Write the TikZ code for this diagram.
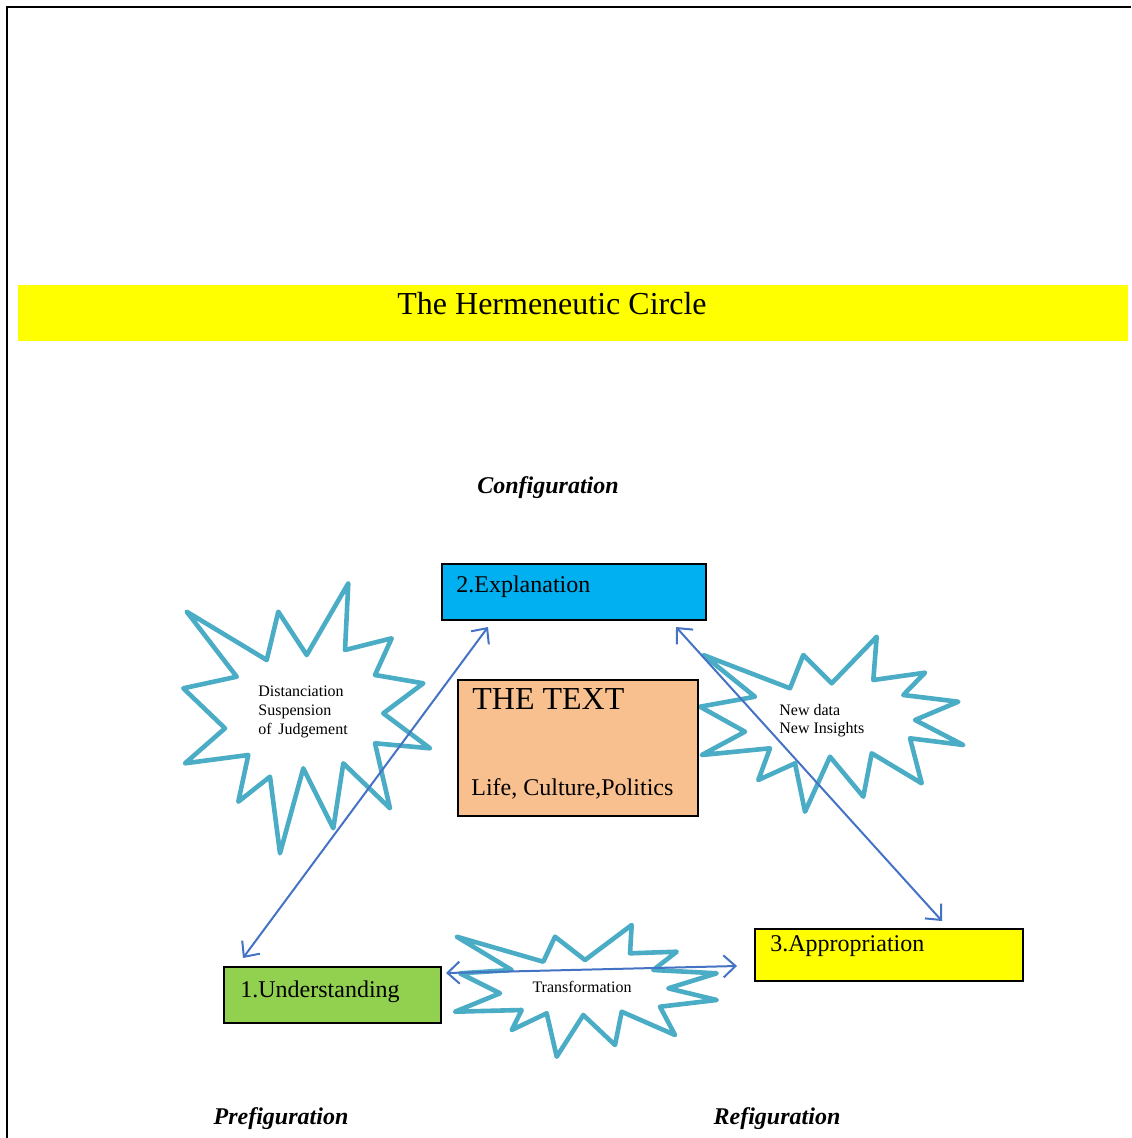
\documentclass[tikz,border=0pt]{standalone}
\usepackage{fontspec}
\setmainfont{Liberation Serif}
\usetikzlibrary{arrows.meta,calc}
\definecolor{burst}{HTML}{4BACC6}
\definecolor{arrowblue}{HTML}{4472C4}
\definecolor{cyanbox}{HTML}{00B0F0}
\definecolor{peach}{HTML}{F9C08F}
\definecolor{greenbox}{HTML}{92D050}
\definecolor{ylw}{HTML}{FFFF00}
\tikzset{
  boxnode/.style={draw=black,line width=0.9pt,inner sep=0pt,anchor=north west},
  burstline/.style={draw=burst,line width=2.3pt,line join=round,fill=white},
  link/.style={draw=arrowblue,line width=1pt,{Straight Barb[length=6pt,width=11pt]}-{Straight Barb[length=6pt,width=11pt]}},
  lbl/.style={inner sep=0pt,anchor=base west},
  phase/.style={inner sep=0pt,font=\fontsize{12}{14}\selectfont\bfseries\itshape},
  small/.style={inner sep=0pt,anchor=base west,font=\fontsize{8}{9.5}\selectfont}
}
\begin{document}
\begin{tikzpicture}[x=0.5pt,y=-0.5pt]
\useasboundingbox (0,0) rectangle (1131,1138);
% frame
\draw[line width=1pt] (7,1138) -- (7,7) -- (1131,7);
% title band
\fill[ylw] (18,285) rectangle (1128,341);
\node[inner sep=0pt,font=\fontsize{16}{19}\selectfont] (title) at (552,304) {The Hermeneutic Circle};
% phase labels
\node[phase] (config) at (548,488) {Configuration};
\node[phase] (prefig) at (281,1119) {Prefiguration};
\node[phase] (refig) at (777,1119) {Refiguration};
% starbursts
\draw[burstline] (186.7,611.7) -- (266.7,660) -- (278.3,611.7) -- (306.7,655) -- (348.3,583.3) -- (345,650) -- (391.7,638.3) -- (375,675) -- (423.3,683.3) -- (383.3,713.3) -- (430,748.3) -- (375,743.3) -- (390,808.3) -- (343.3,763.3) -- (333.3,828.3) -- (303.3,768.3) -- (280,853.3) -- (270,776.7) -- (238.3,801.7) -- (248.3,755) -- (185,763.3) -- (225,728.3) -- (183.3,688.3) -- (236.7,676.7) -- cycle;
\node[small] (d1) at (258,696) {Distanciation};
\node[small] (d2) at (258,715) {Suspension};
\node[small] (d3) at (258,734) {of\, Judgement};
\draw[burstline] (703.3,655) -- (790,688.3) -- (803.3,655) -- (831.7,683.3) -- (876.7,636.7) -- (873.3,680) -- (925,672.7) -- (903.3,695) -- (958.3,701.7) -- (915,720) -- (963.3,745) -- (910,738.3) -- (921.7,783.3) -- (871.7,753.3) -- (863.3,796.7) -- (830,756.7) -- (805,811.7) -- (795,763.3) -- (758.3,780) -- (770,748.3) -- (701.7,755) -- (745,731.7) -- (700,706.7) -- (755,696.7) -- cycle;
\node[small] (n1) at (779,715) {New data};
\node[small] (n2) at (779,733) {New Insights};
\draw[burstline] (456.7,936.7) -- (543.3,961.7) -- (555,936.7) -- (585,960) -- (631.7,925) -- (630,953.3) -- (676.7,951.7) -- (653.3,970) -- (716.7,973.3) -- (668.3,988.3) -- (716.7,1000) -- (660,1006.7) -- (675,1035) -- (621.7,1011.7) -- (615,1045) -- (583.3,1015) -- (556.7,1056.7) -- (546.7,1013.3) -- (511.7,1030) -- (521.7,1010) -- (455,1011.7) -- (500,993.3) -- (460,973.3) -- (511.7,970) -- cycle;
\node[inner sep=0pt,font=\fontsize{8}{9.5}\selectfont] (trans) at (582,987) {Transformation};
% boxes
\node[boxnode,fill=cyanbox,minimum width=132pt,minimum height=28pt] (expl) at (441,563) {};
\node[lbl,font=\fontsize{12}{14}\selectfont] (explt) at (456,592) {2.Explanation};
\node[boxnode,fill=peach,minimum width=120pt,minimum height=68pt] (text) at (457,679) {};
\node[lbl,font=\fontsize{16}{19}\selectfont] (textt) at (472,709) {THE TEXT};
\node[lbl,font=\fontsize{12}{14}\selectfont] (textl) at (471,795) {Life, Culture,Politics};
\node[boxnode,fill=greenbox,minimum width=108.5pt,minimum height=28pt] (und) at (223,966) {};
\node[lbl,font=\fontsize{12}{14}\selectfont] (undt) at (240,997) {1.Understanding};
\node[boxnode,fill=ylw,minimum width=134pt,minimum height=26pt] (appr) at (754,928) {};
\node[lbl,font=\fontsize{12}{14}\selectfont] (apprt) at (770,951) {3.Appropriation};
% arrow ends
\coordinate (eA) at (488,627);
\coordinate (uA) at (243,958);
\coordinate (eB) at (676,627);
\coordinate (aB) at (942,921);
\coordinate (uC) at (446,973);
\coordinate (aC) at (737,966);
\draw[link] (uA) -- (eA);
\draw[link] (eB) -- (aB);
\draw[link] (uC) -- (aC);
\end{tikzpicture}
\end{document}
